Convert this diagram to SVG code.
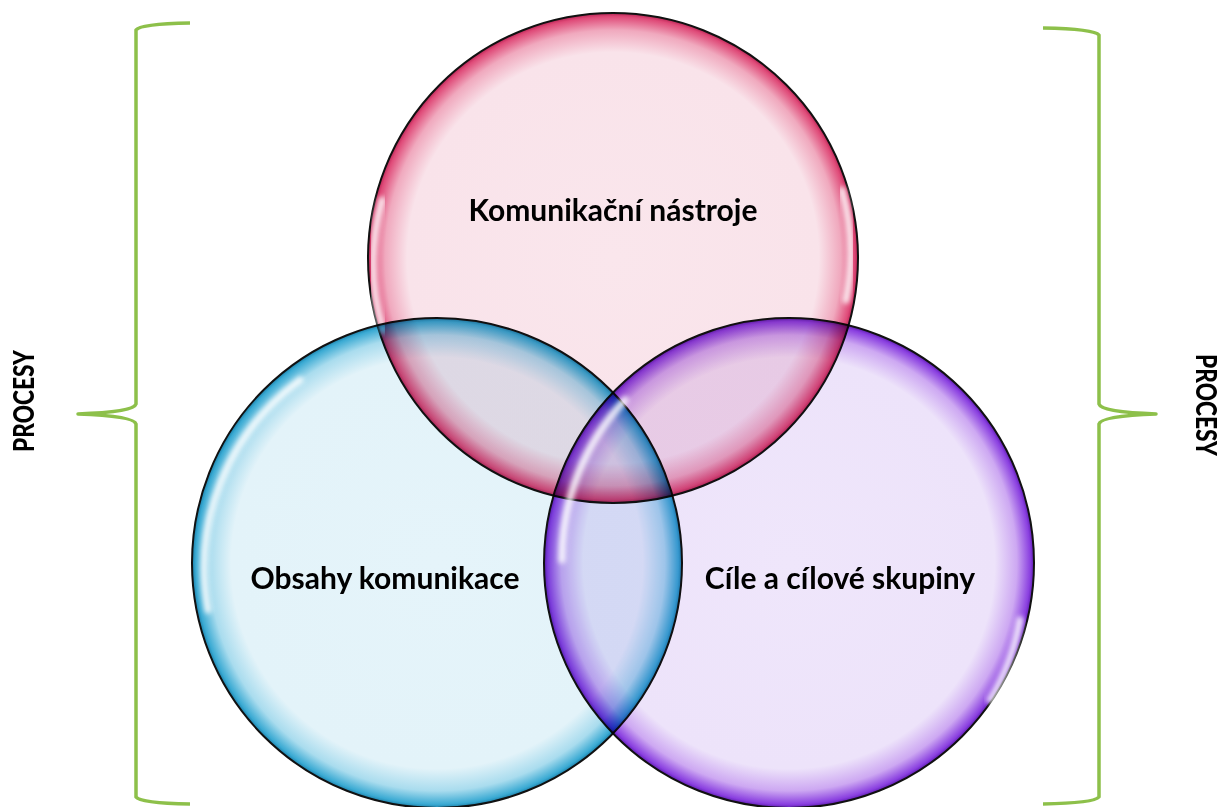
<svg xmlns="http://www.w3.org/2000/svg" width="1224" height="807" viewBox="0 0 1224 807">
<style>
.lbl{font-family:Lato,"Liberation Sans",sans-serif;font-weight:700;font-size:30px;fill:#000;text-anchor:middle}
.side{font-family:Lato,"Liberation Sans",sans-serif;font-weight:900;font-size:29px;fill:#000;text-anchor:middle}
.brace{fill:none;stroke:#8DC04A;stroke-width:3.5;stroke-linejoin:round}
.bub{stroke:#111;stroke-width:2;mix-blend-mode:multiply}
.hl{fill:none;stroke:#fff;stroke-width:7;stroke-linecap:round;opacity:0.85;filter:url(#blur)}
</style>
<defs>
<filter id="blur" x="-20%" y="-20%" width="140%" height="140%"><feGaussianBlur stdDeviation="2.5"/></filter>
<radialGradient id="gPink" cx="50%" cy="50%" r="50%">
<stop offset="0" stop-color="#FAE6EC"/>
<stop offset="0.84" stop-color="#F9E3EA"/>
<stop offset="0.93" stop-color="#F0A9BE"/>
<stop offset="0.985" stop-color="#DF4A78"/>
<stop offset="1" stop-color="#B82555"/>
</radialGradient>
<radialGradient id="gBlue" cx="50%" cy="50%" r="50%">
<stop offset="0" stop-color="#E5F4FA"/>
<stop offset="0.84" stop-color="#E3F3F9"/>
<stop offset="0.93" stop-color="#A9DCEE"/>
<stop offset="0.985" stop-color="#3AAAD3"/>
<stop offset="1" stop-color="#1C7FA8"/>
</radialGradient>
<radialGradient id="gPurp" cx="50%" cy="50%" r="50%">
<stop offset="0" stop-color="#EFE6FB"/>
<stop offset="0.84" stop-color="#EDE3FA"/>
<stop offset="0.93" stop-color="#CDA8F2"/>
<stop offset="0.985" stop-color="#8A3FE0"/>
<stop offset="1" stop-color="#5E1DB0"/>
</radialGradient>
</defs>
<rect width="1224" height="807" fill="#fff"/>
<g id="node-tools">
<circle class="bub" cx="613" cy="258" r="245" fill="url(#gPink)"/>
<path class="hl" d="M 383 330 A 232 232 0 0 1 382 200" />
<path class="hl" d="M 842 190 A 232 232 0 0 1 846 300" />
<text class="lbl" x="613" y="221">Komunikační nástroje</text>
</g>
<g id="node-content">
<circle class="bub" cx="437" cy="563" r="245" fill="url(#gBlue)"/>
<path class="hl" d="M 208 610 A 232 232 0 0 1 300 380" />
<text class="lbl" x="385" y="589">Obsahy komunikace</text>
</g>
<g id="node-targets">
<circle class="bub" cx="789" cy="563" r="245" fill="url(#gPurp)"/>
<path class="hl" d="M 562 560 A 232 232 0 0 1 625 400" />
<path class="hl" d="M 1020 620 A 232 232 0 0 1 990 700" />
<text class="lbl" x="840" y="589">Cíle a cílové skupiny</text>
</g>
<g id="connectors">
<path class="brace" d="M 190 23 Q 140 24 136 30 L 136 404 Q 134 412 78 414 Q 134 416 136 424 L 136 797 Q 140 803 190 804"/>
<path class="brace" d="M 1043 28 Q 1094 29 1099 35 L 1099 404 Q 1101 412 1156 414 Q 1101 416 1099 424 L 1099 797 Q 1094 803 1043 804"/>
</g>
<g id="label-left">
<text class="side" transform="translate(34 401) rotate(-90)" textLength="102" lengthAdjust="spacingAndGlyphs">PROCESY</text>
</g>
<g id="label-right">
<text class="side" transform="translate(1196 405) rotate(90)" textLength="102" lengthAdjust="spacingAndGlyphs">PROCESY</text>
</g>
</svg>
